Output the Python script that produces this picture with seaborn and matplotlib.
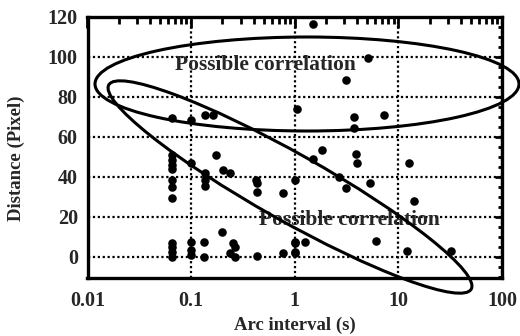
import numpy as np
import pandas as pd
import matplotlib
matplotlib.use("Agg")
import matplotlib.pyplot as plt
import seaborn as sns
from matplotlib.patches import Ellipse
from matplotlib.transforms import IdentityTransform
from matplotlib.ticker import FixedLocator, LogLocator, MultipleLocator, NullFormatter

# Data
arc_interval = [1.51, 5.1, 3.15, 1.06, 3.75, 7.3, 3.75, 0.065, 0.10, 0.136, 0.163,
                0.065, 0.065, 0.065, 0.065, 0.10, 0.175, 0.204, 0.238, 0.136, 0.136,
                0.136, 0.425, 0.43, 0.43, 1.0, 0.065, 0.065, 0.065, 0.775, 1.84, 1.51,
                3.9, 3.98, 12.8, 2.69, 3.15, 5.35, 14.3, 1.01, 1.26, 6.1, 12.2, 32.5,
                1.0, 0.20, 0.065, 0.065, 0.065, 0.065, 0.10, 0.10, 0.10, 0.134, 0.134,
                0.254, 0.266, 0.238, 0.266, 0.43, 0.775, 1.0, 1.0]
distance = [116.5, 99.5, 88.5, 74, 70, 71, 64.5, 69.5, 68.5, 71, 71,
            51, 48.5, 46, 44, 47, 51, 43.5, 42, 42, 38.5,
            35.5, 38.5, 37, 32.5, 38.5, 38.5, 35, 29.5, 32, 53.5, 49,
            51.5, 47, 47, 40, 34.5, 37, 28, 7.5, 7.5, 8, 3, 3,
            2, 12.5, 7, 5, 2.5, 0, 7.5, 3.5, 1, 7.5, 0,
            7, 5, 2, 0, 0.5, 2, 7, 2.5]
x_ticks = [0.01, 0.1, 1, 10, 100]
x_tick_labels = ["0.01", "0.1", "1", "10", "100"]
y_ticks = [0, 20, 40, 60, 80, 100, 120]
annotation_text = "Possible correlation"

df = pd.DataFrame({"Arc interval (s)": arc_interval, "Distance (Pixel)": distance})

sns.set_style("white")
plt.rcParams["font.family"] = ["Liberation Serif", "DejaVu Serif"]
plt.rcParams["font.weight"] = "bold"

fig = plt.figure(figsize=(5.2, 3.36), dpi=100)
ax = fig.add_axes([87.5 / 520, 1 - 278 / 336, (502 - 87.5) / 520, (278 - 17) / 336])

sns.scatterplot(data=df, x="Arc interval (s)", y="Distance (Pixel)", ax=ax,
                color="black", s=38, edgecolor="black", linewidth=0, zorder=3)

ax.set_xscale("log")
ax.set_xlim(0.01, 100)
ax.set_ylim(-10.5, 120)

ax.xaxis.set_major_locator(FixedLocator(x_ticks))
ax.set_xticks(x_ticks)
ax.set_xticklabels(x_tick_labels)
ax.xaxis.set_minor_locator(LogLocator(base=10, subs=np.arange(2, 10)))
ax.xaxis.set_minor_formatter(NullFormatter())
ax.set_yticks(y_ticks)
ax.yaxis.set_minor_locator(MultipleLocator(5))

for lab in ax.get_xticklabels() + ax.get_yticklabels():
    lab.set_fontweight("bold")
    lab.set_fontsize(14.5)

ax.tick_params(which="both", direction="in", top=True, right=True, color="black")
ax.tick_params(axis="x", which="major", length=8, width=2, pad=9)
ax.tick_params(axis="x", which="minor", length=5, width=2)
ax.tick_params(axis="y", which="major", length=5, width=2, pad=7)
ax.tick_params(axis="y", which="minor", length=3, width=2)

ax.grid(True, which="major", color="black", linestyle=(0, (1, 1.2)), linewidth=1.6)
ax.set_axisbelow(True)
for sp in ax.spines.values():
    sp.set_linewidth(2.4)
    sp.set_color("black")
    sp.set_zorder(5)

ax.set_xlabel("Arc interval (s)", fontsize=13.5, fontweight="bold")
ax.set_ylabel("Distance (Pixel)", fontsize=13.5, fontweight="bold")
ax.xaxis.set_label_coords(0.50, -0.148)
ax.yaxis.set_label_coords(-0.150, 0.46)

ax.text(0.07, 93.5, annotation_text, fontsize=15.5, fontweight="bold", zorder=4)
ax.text(0.454, 16, annotation_text, fontsize=15.5, fontweight="bold", zorder=4)

H = 336
e1 = Ellipse((307, H - 84), 424, 94, angle=0, fill=False, edgecolor="black",
             linewidth=2.2, transform=IdentityTransform(), clip_on=False, zorder=6)
e2 = Ellipse((290, H - 187), 416, 67, angle=-29.4, fill=False, edgecolor="black",
             linewidth=2.2, transform=IdentityTransform(), clip_on=False, zorder=6)
fig.add_artist(e1)
fig.add_artist(e2)

fig.savefig("out.png", dpi=100)
